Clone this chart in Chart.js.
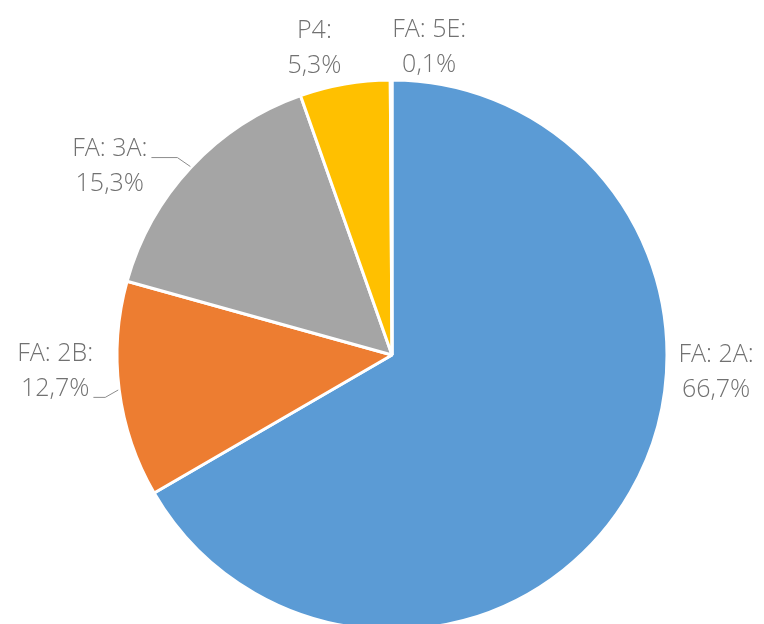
<!DOCTYPE html>
<html>
<head>
<meta charset="utf-8">
<script src="https://cdn.jsdelivr.net/npm/chart.js@4.4.0/dist/chart.umd.min.js"></script>
<style>
html, body { margin: 0; padding: 0; background: #fff; overflow: hidden; }
canvas { display: block; }
</style>
</head>
<body>
<canvas id="pieCanvas" width="764" height="640"></canvas>
<script>
var categories = ['FA: 2A', 'FA: 2B', 'FA: 3A', 'P4', 'FA: 5E'];
var shares = [66.7, 12.7, 15.3, 5.3, 0.1];
var sliceColors = ['#5B9BD5', '#ED7D31', '#A5A5A5', '#FFC000', '#4472C4'];
// where Excel put each label: angle from 12 o'clock (deg), distance as a share of the radius
var labelAngle = [93, 267.3, 303.8, 345.8, 6.9];
var labelDist = [1.18, 1.226, 1.235, 1.15, 1.125];
var hasLeader = [false, true, true, false, false];

var fmt = function(v){
    return v.toFixed(1).replace('.', ',') + '%';
};

var outsideLabels = {
    id: 'outsideLabels',
    afterDatasetsDraw: function(chart){
        var ctx = chart.ctx;
        var meta = chart.getDatasetMeta(0);
        var arc0 = meta.data[0];
        var cx = arc0.x, cy = arc0.y, r = arc0.outerRadius;
        var lineH = 35;
        ctx.save();
        ctx.font = '300 25px "Open Sans"';
        ctx.fillStyle = '#717171';
        ctx.textAlign = 'center';
        ctx.textBaseline = 'middle';
        for (var i = 0; i < categories.length; i++){
            var a = labelAngle[i] * Math.PI / 180;
            var lx = cx + Math.sin(a) * r * labelDist[i];
            var ly = cy - Math.cos(a) * r * labelDist[i];
            var line1 = categories[i] + ':';
            var line2 = fmt(shares[i]);
            ctx.fillText(line1, lx, ly - lineH / 2);
            ctx.fillText(line2, lx, ly + lineH / 2);
            if (hasLeader[i]){
                var arc = meta.data[i];
                var mid = (arc.startAngle + arc.endAngle) / 2;
                var ex = cx + Math.cos(mid) * (r + 1);
                var ey = cy + Math.sin(mid) * (r + 1);
                var b1 = ly - lineH / 2 + 9, b2 = ly + lineH / 2 + 9;
                var useFirst = Math.abs(ey - b1) < Math.abs(ey - b2);
                var yLine = useFirst ? b1 : b2;
                var w = ctx.measureText(useFirst ? line1 : line2).width;
                var tx = lx + w / 2 + 4;
                var elbowX = ex - 13;
                ctx.beginPath();
                ctx.strokeStyle = '#8c8c8c';
                ctx.lineWidth = 1;
                ctx.moveTo(tx, yLine);
                ctx.lineTo(elbowX, yLine);
                ctx.lineTo(ex, ey);
                ctx.stroke();
            }
        }
        ctx.restore();
    }
};

var ctx = document.getElementById('pieCanvas').getContext('2d');
var myPieChart = new Chart(ctx, {
    type: 'pie',
    data: {
        labels: categories,
        datasets: [{
            data: shares,
            backgroundColor: sliceColors,
            borderColor: '#ffffff',
            borderWidth: 3
        }]
    },
    options: {
        responsive: false,
        animation: false,
        devicePixelRatio: 1,
        radius: 275,
        layout: { padding: { top: 80, bottom: 10, left: 20, right: 0 } },
        plugins: {
            legend: { display: false },
            tooltip: { enabled: false }
        }
    },
    plugins: [outsideLabels]
});
</script>
</body>
</html>
